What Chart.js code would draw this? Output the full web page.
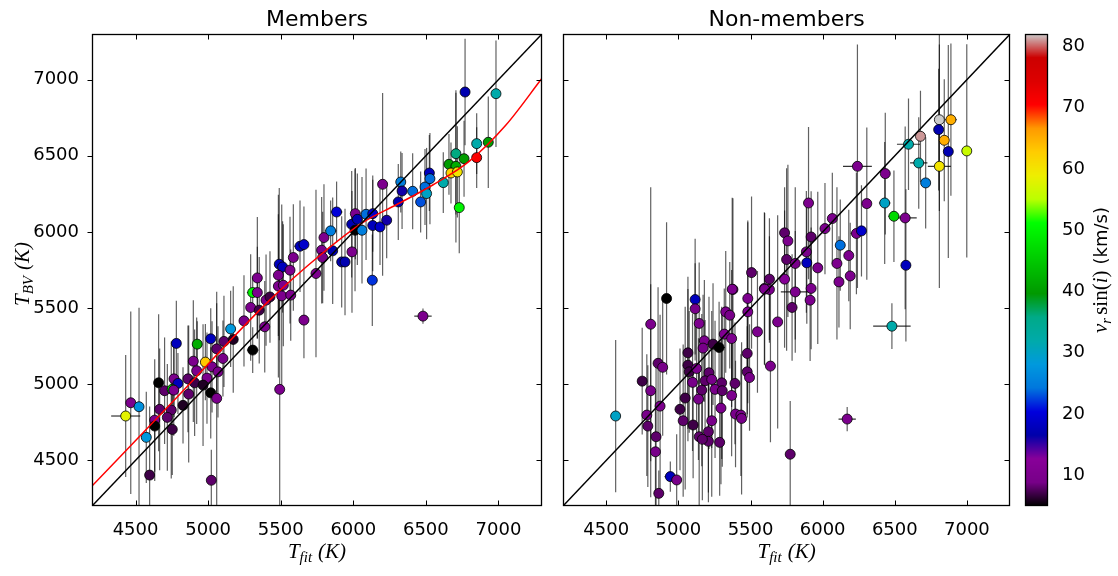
<!DOCTYPE html>
<html>
<head>
<meta charset="utf-8">
<script src="https://cdn.jsdelivr.net/npm/chart.js@4.4.1/dist/chart.umd.min.js"></script>
<style>
  html, body { margin: 0; padding: 0; background: #fff; }
  #wrap { position: relative; width: 1118px; height: 576px; }
  .box { position: absolute; top: 0; height: 576px; }
</style>
</head>
<body>
<div id="wrap">
  <div class="box" style="left:0;width:548px"><canvas id="membersChart"></canvas></div>
  <div class="box" style="left:548px;width:468px"><canvas id="nonMembersChart"></canvas></div>
  <div class="box" style="left:1016px;width:102px"><canvas id="colorbarChart"></canvas></div>
</div>
<script>
// axis ranges and ticks
const tMin = 4200, tMax = 7300;
const tempTicks = [4500, 5000, 5500, 6000, 6500, 7000];
const vMin = 5, vMax = 82;
const vsiniTicks = [10, 20, 30, 40, 50, 60, 70, 80];

// Members: T_fit, T_BV, v sin i, errors
const memTfit = [
  4467, 4524, 4432, 4574, 4597, 4781, 4925, 5018, 5155, 5293,
  5390, 5660, 5247, 5109, 5173, 5307, 5059, 4981, 4898, 5102,
  5027, 4921, 5068, 4992, 4861, 4907, 4765, 4792, 4659, 4700,
  4752, 4763, 4965, 4866, 5018, 5059, 4827, 4666, 4746, 4719,
  4632, 4632, 4753, 5493, 5022, 5307, 5339, 5339, 5352, 5399,
  5426, 5490, 5513, 5484, 5564, 5484, 5518, 5507, 5569, 5587,
  5633, 5660, 5743, 5798, 5782, 5789, 5844, 5858, 5885, 5920,
  5943, 5991, 6014, 5989, 6028, 6012, 6060, 6088, 6134, 6134,
  6184, 6230, 6131, 6202, 6327, 6336, 6310, 6409, 6464, 6494,
  6505, 6524, 6528, 6620, 6770, 6983, 6707, 6659, 6707, 6763,
  6673, 6717, 6850, 6930, 6850, 6730, 6480
];
const memTbv = [
  4878, 4852, 4791, 4651, 4403, 5268, 5263, 5298, 5363, 5504,
  5377, 5421, 5416, 5281, 5294, 5224, 5232, 5145, 5151, 5169,
  5114, 5088, 5081, 5040, 5035, 5009, 5035, 5005, 5009, 4957,
  4966, 4961, 4994, 4935, 4943, 4907, 4861, 4835, 4830, 4782,
  4764, 4725, 4703, 4966, 4369, 5602, 5602, 5698, 5486, 5552,
  5573, 5788, 5770, 5716, 5749, 5644, 5650, 5580, 5585, 5832,
  5906, 5917, 5727, 5963, 5880, 5832, 6007, 5876, 6131, 5803,
  5803, 5869, 6120, 6050, 6083, 6011, 6011, 6116, 6120, 6042,
  6033, 6077, 5683, 6313, 6328, 6269, 6197, 6267, 6197, 6295,
  6252, 6387, 6350, 6324, 6919, 6908, 6514, 6444, 6431, 6481,
  6387, 6394, 6580, 6589, 6488, 6160, 5447
];
const memVsini = [
  10, 27, 58, 28, 7, 18, 42, 18, 28, 10,
  10, 10, 9, 8, 6, 4, 8, 63, 10, 9,
  10, 10, 9, 10, 8, 7, 10, 18, 4, 8,
  48, 10, 6, 8, 4, 10, 6, 8, 8, 8,
  10, 4, 7, 10, 8, 50, 10, 10, 7, 9,
  7, 18, 18, 10, 10, 10, 10, 10, 10, 10,
  18, 19, 10, 10, 10, 9, 25, 17, 20, 17,
  17, 10, 10, 17, 17, 4, 25, 24, 19, 18,
  19, 16, 22, 10, 25, 16, 17, 24, 23, 24,
  30, 18, 24, 32, 17, 32, 36, 40, 42, 40,
  62, 60, 32, 40, 71, 50, 10
];
const memErrBV = [
  600, 650, 400, 300, 450, 280, 150, 200, 250, 350,
  300, 250, 300, 300, 350, 150, 300, 250, 400, 250,
  300, 350, 300, 300, 350, 350, 250, 200, 450, 350,
  100, 300, 400, 450, 300, 700, 250, 400, 450, 350,
  400, 300, 300, 830, 200, 100, 300, 400, 350, 300,
  300, 500, 300, 400, 350, 600, 400, 600, 300, 350,
  300, 250, 550, 350, 350, 300, 200, 350, 200, 300,
  350, 400, 300, 350, 300, 400, 350, 300, 250, 300,
  250, 250, 300, 600, 200, 250, 250, 250, 200, 250,
  300, 250, 300, 200, 350, 350, 400, 200, 500, 250,
  200, 300, 200, 300, 200, 300, 50
];
const memErrFit = [
  0, 0, 100, 0, 0, 0, 0, 0, 0, 0,
  0, 0, 0, 0, 0, 40, 0, 0, 0, 0,
  0, 0, 0, 0, 0, 0, 0, 0, 0, 0,
  0, 0, 0, 0, 0, 0, 0, 0, 0, 0,
  0, 0, 0, 0, 0, 40, 0, 0, 0, 0,
  0, 0, 0, 0, 0, 0, 0, 0, 0, 0,
  40, 0, 0, 0, 0, 0, 40, 0, 40, 0,
  0, 0, 0, 0, 0, 0, 0, 0, 0, 0,
  0, 0, 0, 0, 0, 0, 0, 0, 0, 0,
  0, 0, 0, 0, 0, 0, 0, 0, 0, 0,
  0, 0, 0, 0, 0, 0, 60
];

// red fit curve
const fitTfit = [4200, 4800, 5424, 5771, 6067, 6300, 6550, 6800, 7050, 7300];
const fitTbv = [4331, 4929, 5552, 5847, 6063, 6180, 6310, 6465, 6700, 7009];

// Non-members
const nonTfit = [
  4918, 5116, 5378, 5116, 4808, 5144, 5328, 5356, 5481, 5481,
  5596, 5631, 5548, 5688, 5318, 5369, 5180, 5171, 5240, 5282,
  5066, 5477, 4859, 4891, 5066, 5075, 5126, 5638, 5477, 5493,
  4749, 5098, 5212, 5185, 5231, 5300, 5392, 4808, 5162, 5254,
  5304, 5369, 5047, 5139, 4873, 5011, 5295, 4781, 4565, 5033,
  5231, 5396, 5433, 5438, 4788, 5102, 5208, 5144, 4845, 5208,
  5286, 5166, 4841, 4944, 4988, 4864, 5775, 6241, 6434, 5902,
  6306, 6430, 6494, 6067, 6016, 6234, 6269, 5736, 5759, 5920,
  6122, 5887, 6181, 5750, 5810, 5890, 6099, 5966, 6113, 6191,
  5507, 5631, 5736, 5373, 5598, 5810, 5920, 5913, 5788, 6809,
  6889, 6678, 6804, 6843, 6871, 6999, 6595, 6666, 6809, 6714,
  6572, 6577, 6480, 6170
];
const nonTbv = [
  5563, 5556, 5622, 5495, 5394, 5399, 5475, 5453, 5563, 5475,
  5629, 5622, 5344, 5409, 5329, 5300, 5285, 5237, 5263, 5241,
  5206, 5202, 5137, 5111, 5125, 5081, 5103, 5119, 5081, 5044,
  5020, 5012, 5075, 5022, 5031, 5009, 5005, 4957, 4961, 4966,
  4957, 4926, 4909, 4902, 4856, 4835, 4843, 4797, 4791, 4760,
  4760, 4804, 4797, 4775, 4725, 4732, 4688, 4655, 4655, 4625,
  4618, 4638, 4556, 4393, 4371, 4283, 4540, 6431, 6383, 6190,
  6186, 6190, 6103, 6088, 6022, 5990, 6007, 5994, 5941, 5967,
  5913, 5869, 5845, 5819, 5793, 5797, 5793, 5764, 5672, 5711,
  5733, 5690, 5690, 5624, 5624, 5606, 5629, 5552, 5504, 6737,
  6737, 6628, 6672, 6602, 6528, 6532, 6576, 6453, 6431, 6322,
  6092, 5781, 5381, 4771
];
const nonVsini = [
  4, 18, 10, 9, 10, 10, 10, 9, 10, 10,
  10, 10, 10, 10, 11, 10, 10, 9, 7, 4,
  7, 8, 8, 9, 7, 7, 10, 10, 8, 9,
  7, 9, 8, 8, 9, 8, 8, 9, 8, 9,
  8, 10, 7, 9, 10, 7, 10, 9, 30, 8,
  9, 9, 9, 9, 8, 7, 8, 8, 8, 8,
  8, 8, 9, 18, 9, 8, 8, 10, 10, 10,
  10, 30, 47, 10, 10, 10, 19, 8, 10, 8,
  24, 9, 10, 8, 9, 18, 10, 10, 10, 10,
  8, 8, 12, 10, 10, 10, 10, 10, 8, 82,
  65, 81, 17, 65, 17, 56, 32, 32, 60, 25,
  10, 18, 32, 10
];
const nonErrBV = [
  500, 400, 600, 300, 900, 400, 400, 350, 500, 600,
  500, 350, 400, 700, 300, 450, 400, 350, 400, 300,
  500, 400, 500, 450, 500, 400, 450, 500, 300, 350,
  350, 450, 500, 400, 450, 500, 400, 700, 500, 450,
  500, 400, 600, 400, 600, 400, 500, 400, 500, 500,
  500, 350, 400, 500, 400, 350, 400, 450, 500, 400,
  350, 400, 400, 100, 300, 150, 350, 800, 400, 500,
  500, 400, 300, 300, 300, 400, 300, 300, 500, 300,
  300, 400, 300, 600, 500, 400, 500, 500, 300, 350,
  500, 400, 450, 600, 500, 400, 400, 400, 350, 600,
  500, 300, 400, 400, 700, 700, 300, 300, 800, 300,
  600, 500, 150, 80
];
const nonErrFit = [
  0, 0, 0, 0, 0, 0, 0, 0, 0, 0,
  0, 0, 0, 0, 0, 0, 0, 0, 0, 40,
  0, 0, 0, 0, 0, 0, 0, 0, 0, 0,
  0, 0, 0, 0, 0, 0, 0, 0, 0, 0,
  0, 0, 0, 0, 0, 0, 0, 0, 0, 0,
  0, 0, 0, 0, 0, 0, 0, 0, 0, 0,
  0, 0, 0, 40, 0, 0, 0, 100, 0, 0,
  0, 40, 40, 0, 0, 40, 0, 0, 0, 0,
  0, 0, 0, 0, 0, 0, 0, 0, 0, 0,
  0, 0, 0, 0, 0, 100, 0, 0, 0, 0,
  40, 0, 0, 0, 0, 0, 80, 60, 80, 0,
  80, 0, 130, 60
];

// nipy_spectral colormap nodes (matplotlib)
const NIPY_R = [0, 0.4667, 0.5333, 0, 0, 0, 0, 0, 0, 0, 0, 0, 0, 0.7333, 0.9333, 1, 1, 1, 0.8667, 0.8, 0.8];
const NIPY_G = [0, 0, 0, 0, 0, 0.4667, 0.6, 0.6667, 0.6667, 0.6, 0.7333, 0.8667, 1, 1, 0.9333, 0.8, 0.6, 0, 0, 0, 0.8];
const NIPY_B = [0, 0.5333, 0.6, 0.6667, 0.8667, 0.8667, 0.8667, 0.6667, 0.5333, 0, 0, 0, 0, 0, 0, 0, 0, 0, 0, 0, 0.8];

function nipySpectral(v) {
    let t = (v - vMin) / (vMax - vMin);
    t = Math.max(0, Math.min(1, t));
    const f = t * 20;
    const i = Math.min(19, Math.floor(f));
    const w = f - i;
    const c = k => Math.round(255 * (k[i] + (k[i + 1] - k[i]) * w));
    return 'rgb(' + c(NIPY_R) + ',' + c(NIPY_G) + ',' + c(NIPY_B) + ')';
}

const FONT = "'DejaVu Sans', sans-serif";
const MATH = "italic 21px 'Liberation Serif', serif";
const MATH_SUB = "italic 15px 'Liberation Serif', serif";
const MATH_RM = "21px 'Liberation Serif', serif";

function drawRich(ctx, parts, cx, cy, angle) {
    ctx.save();
    ctx.translate(cx, cy);
    ctx.rotate(angle);
    let w = 0;
    parts.forEach(p => { ctx.font = p.font; p.w = ctx.measureText(p.text).width + (p.gap || 0); w += p.w; });
    let x = -w / 2;
    ctx.textAlign = 'left';
    ctx.textBaseline = 'alphabetic';
    ctx.fillStyle = '#000';
    parts.forEach(p => { ctx.font = p.font; ctx.fillText(p.text, x, p.dy || 0); x += p.w; });
    ctx.restore();
}

// error bars under the markers
const errorBars = {
    id: 'errorBars',
    beforeDatasetsDraw(chart) {
        const ds = chart.data.datasets.find(d => d.errY);
        if (!ds) return;
        const {ctx, chartArea: a, scales: {x, y}} = chart;
        ctx.save();
        ctx.beginPath();
        ctx.rect(a.left, a.top, a.width, a.height);
        ctx.clip();
        ctx.lineWidth = 1.2;
        ds.data.forEach((p, i) => {
            const px = x.getPixelForValue(p.x), py = y.getPixelForValue(p.y);
            if (ds.errY[i]) {
                ctx.strokeStyle = 'rgba(0,0,0,0.62)';
                ctx.beginPath();
                ctx.moveTo(px, y.getPixelForValue(p.y - ds.errY[i]));
                ctx.lineTo(px, y.getPixelForValue(p.y + ds.errY[i]));
                ctx.stroke();
            }
            if (ds.errX[i]) {
                ctx.strokeStyle = 'rgba(0,0,0,0.8)';
                ctx.beginPath();
                ctx.moveTo(x.getPixelForValue(p.x - ds.errX[i]), py);
                ctx.lineTo(x.getPixelForValue(p.x + ds.errX[i]), py);
                ctx.stroke();
            }
        });
        ctx.restore();
    }
};

// frame, inward ticks, titles, axis labels
const framePlugin = {
    id: 'frame',
    afterDraw(chart, args, opts) {
        const {ctx, chartArea: a, scales: {x, y}} = chart;
        const L = Math.round(a.left) + 0.5, R = Math.round(a.right) - 0.5;
        const T = Math.round(a.top) + 0.5, B = Math.round(a.bottom) - 0.5;
        ctx.save();
        ctx.strokeStyle = '#000';
        ctx.lineWidth = 1;
        ctx.beginPath();
        tempTicks.forEach(v => {
            const px = Math.round(x.getPixelForValue(v)) + 0.5;
            ctx.moveTo(px, B); ctx.lineTo(px, B - 5);
            ctx.moveTo(px, T); ctx.lineTo(px, T + 5);
            const py = Math.round(y.getPixelForValue(v)) + 0.5;
            if (opts.leftOut) { ctx.moveTo(L, py); ctx.lineTo(L - 5, py); }
            else { ctx.moveTo(L, py); ctx.lineTo(L + 5, py); }
            ctx.moveTo(R, py); ctx.lineTo(R - 5, py);
        });
        ctx.stroke();
        ctx.lineWidth = 1.3;
        ctx.strokeRect(L, T, R - L, B - T);

        ctx.fillStyle = '#000';
        ctx.font = '22px ' + FONT;
        ctx.textAlign = 'center';
        ctx.textBaseline = 'alphabetic';
        ctx.fillText(opts.title, (a.left + a.right) / 2, 26);

        drawRich(ctx, [
            {text: 'T', font: MATH},
            {text: 'fit', font: MATH_SUB, dy: 4, gap: 6},
            {text: '(K)', font: MATH}
        ], (a.left + a.right) / 2, 558, 0);

        if (opts.yLabel) {
            drawRich(ctx, [
                {text: 'T', font: MATH},
                {text: 'BV', font: MATH_SUB, dy: 4, gap: 6},
                {text: '(K)', font: MATH}
            ], 29, (a.top + a.bottom) / 2 + 4, -Math.PI / 2);
        }
        ctx.restore();
    }
};

function panelOptions(title, showY, yWidth, padRight, leftOut) {
    return {
        responsive: true,
        maintainAspectRatio: false,
        animation: false,
        events: [],
        layout: {padding: {top: 34, right: padRight, left: 0, bottom: 0}},
        plugins: {
            legend: {display: false},
            tooltip: {enabled: false},
            frame: {title: title, yLabel: showY, leftOut: leftOut}
        },
        scales: {
            x: {
                type: 'linear', min: tMin, max: tMax,
                grid: {display: false}, border: {display: false},
                afterBuildTicks: s => { s.ticks = tempTicks.map(v => ({value: v})); },
                afterFit: s => { s.height = 70; },
                ticks: {color: '#000', padding: 6, font: {family: FONT, size: 18}, callback: v => String(v)}
            },
            y: {
                type: 'linear', min: tMin, max: tMax,
                grid: {display: false}, border: {display: false},
                afterBuildTicks: s => { s.ticks = tempTicks.map(v => ({value: v})); },
                afterFit: s => { s.width = yWidth; },
                ticks: {display: showY, color: '#000', padding: 5, font: {family: FONT, size: 18}, callback: v => String(v)}
            }
        }
    };
}

function scatterData(tfit, tbv, vsini, errBV, errFit, withFit) {
    const sets = [{
        type: 'line',
        data: [{x: tMin, y: tMin}, {x: tMax, y: tMax}],
        borderColor: '#000', borderWidth: 1.5, pointRadius: 0, order: 0
    }];
    if (withFit) {
        sets.push({
            type: 'line',
            data: fitTfit.map((t, i) => ({x: t, y: fitTbv[i]})),
            borderColor: 'rgb(255,0,0)', borderWidth: 1.5, pointRadius: 0,
            cubicInterpolationMode: 'monotone', clip: 0, order: 0
        });
    }
    sets.push({
        type: 'scatter',
        data: tfit.map((t, i) => ({x: t, y: tbv[i]})),
        backgroundColor: vsini.map(nipySpectral),
        borderColor: '#000', borderWidth: 0.8, pointRadius: 5,
        errY: errBV, errX: errFit, order: 1
    });
    return {datasets: sets};
}

new Chart(document.getElementById('membersChart'), {
    type: 'scatter',
    data: scatterData(memTfit, memTbv, memVsini, memErrBV, memErrFit, true),
    options: panelOptions('Members', true, 92, 6, true),
    plugins: [errorBars, framePlugin]
});

new Chart(document.getElementById('nonMembersChart'), {
    type: 'scatter',
    data: scatterData(nonTfit, nonTbv, nonVsini, nonErrBV, nonErrFit, false),
    options: panelOptions('Non-members', false, 15, 3, false),
    plugins: [errorBars, framePlugin]
});

// Colorbar
const colorbarPlugin = {
    id: 'colorbar',
    beforeDatasetsDraw(chart) {
        const {ctx, chartArea: a, scales: {y}} = chart;
        ctx.save();
        for (let py = Math.floor(a.top); py < a.bottom; py++) {
            ctx.fillStyle = nipySpectral(y.getValueForPixel(py + 0.5));
            ctx.fillRect(a.left, py, a.right - a.left, 1);
        }
        ctx.strokeStyle = '#000';
        ctx.lineWidth = 1.3;
        ctx.strokeRect(Math.round(a.left) + 0.5, Math.round(a.top) + 0.5, Math.round(a.width) - 1, Math.round(a.height) - 1);
        drawRich(ctx, [
            {text: 'v', font: MATH},
            {text: 'r', font: MATH_SUB, dy: 4, gap: 3},
            {text: 'sin', font: MATH_RM},
            {text: '(', font: MATH_RM},
            {text: 'i', font: MATH},
            {text: ')', font: MATH_RM, gap: 6},
            {text: '(km/s)', font: '18px ' + FONT}
        ], 91, (a.top + a.bottom) / 2, -Math.PI / 2);
        ctx.restore();
    }
};

new Chart(document.getElementById('colorbarChart'), {
    type: 'scatter',
    data: {datasets: [{data: []}]},
    options: {
        responsive: true,
        maintainAspectRatio: false,
        animation: false,
        events: [],
        layout: {padding: {top: 34, left: 9, right: 0, bottom: 70}},
        plugins: {legend: {display: false}, tooltip: {enabled: false}},
        scales: {
            x: {display: false, min: 0, max: 1},
            y: {
                position: 'right', min: vMin, max: vMax,
                grid: {display: false}, border: {display: false},
                afterBuildTicks: s => { s.ticks = vsiniTicks.map(v => ({value: v})); },
                afterFit: s => { s.width = 70; },
                ticks: {color: '#000', padding: 6, font: {family: FONT, size: 18}}
            }
        }
    },
    plugins: [colorbarPlugin]
});
</script>
</body>
</html>
